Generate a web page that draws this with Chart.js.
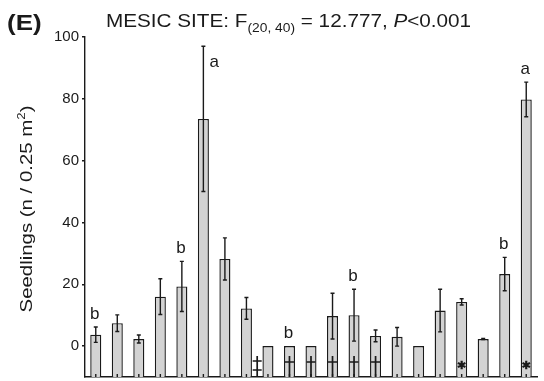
<!DOCTYPE html>
<html>
<head>
<meta charset="utf-8">
<script src="https://cdn.jsdelivr.net/npm/chart.js@4.4.0/dist/chart.umd.min.js"></script>
<style>
  html, body { margin: 0; padding: 0; background: #fff; }
  #wrap { width: 544px; height: 381px; }
</style>
</head>
<body>
<div id="wrap"><canvas id="c" width="544" height="381"></canvas></div>
<script>
// Treatments (21 plots, unlabeled on the axis)
const treatments = ['1','2','3','4','5','6','7','8','9','10','11','12','13','14','15','16','17','18','19','20','21'];
// Mean seedlings per 0.25 m2 and standard error
const seedlings   = [3.7, 7.4, 2.3, 16.0, 19.3, 73.5, 28.2, 12.2, 0, 0, 0, 9.7, 10.0, 3.3, 3.0, 0, 11.5, 14.3, 2.3, 23.3, 79.8];
const seedlingsSE = [2.5, 2.7, 1.3, 5.8, 8.1, 23.5, 6.8, 3.5, 0, 0, 0, 7.4, 8.4, 1.9, 3.0, 0, 6.9, 1.0, 0.2, 5.4, 5.6];
// Post-hoc group letters and markers along the base
const groupLetters = ['b','','','','b','a','','','','b','','','b','','','','','','','b','a'];
const baseMarks    = ['','','','','','','','','‡','†','†','†','†','†','','','','*','','','*'];
const yTicks = [0, 20, 40, 60, 80, 100];

const INK = '#1a1a1a';
const FONT = "'Liberation Sans', Arial, sans-serif";

// draw a run of text pieces [text, font, dy], stretched horizontally by sx
function drawRun(ctx, parts, x, y, sx) {
  ctx.save();
  ctx.translate(x, y);
  ctx.scale(sx, 1);
  let cx = 0;
  parts.forEach(([t, f, dy]) => {
    ctx.font = f + FONT;
    ctx.fillText(t, cx, dy);
    cx += ctx.measureText(t).width;
  });
  ctx.restore();
  return cx * sx;
}

const overlay = {
  id: 'overlay',
  afterDatasetsDraw(chart) {
    const { ctx, chartArea, scales } = chart;
    const ys = scales.y;
    const meta = chart.getDatasetMeta(0);
    const cat = (scales.x.getPixelForValue(1) - scales.x.getPixelForValue(0));
    ctx.save();
    ctx.strokeStyle = INK;
    ctx.fillStyle = INK;
    ctx.lineWidth = 1.4;
    meta.data.forEach((bar, i) => {
      const v = seedlings[i], e = seedlingsSE[i];
      const x = bar.x;
      const yt = ys.getPixelForValue(v + e);
      const yb = ys.getPixelForValue(v - e);
      // error bar
      if (e > 0) {
        ctx.beginPath();
        ctx.moveTo(x, yt); ctx.lineTo(x, yb);
        ctx.moveTo(x - 2, yt); ctx.lineTo(x + 2, yt);
        ctx.moveTo(x - 2, yb); ctx.lineTo(x + 2, yb);
        ctx.stroke();
      }
      // small tick on the base line
      ctx.beginPath();
      ctx.moveTo(x, chartArea.bottom); ctx.lineTo(x, chartArea.bottom - 3);
      ctx.stroke();
      // group letter
      const letter = groupLetters[i];
      if (letter) {
        ctx.font = '17px ' + FONT;
        if (yt - 22 < chartArea.top) {
          ctx.textAlign = 'left';
          ctx.fillText(letter, x + 6, yt + 21);
        } else {
          ctx.textAlign = 'center';
          ctx.fillText(letter, x - 1, yt - 8);
        }
      }
      // base markers
      const mk = baseMarks[i];
      const bot = chartArea.bottom;
      ctx.lineWidth = 1.7;
      if (mk === '†' || mk === '‡') {
        const mx = mk === '‡' ? x - cat / 2 : x;
        ctx.beginPath();
        ctx.moveTo(mx, bot - 21); ctx.lineTo(mx, bot);
        if (mk === '†') {
          ctx.moveTo(mx - 4.5, bot - 15); ctx.lineTo(mx + 4.5, bot - 15);
        } else {
          ctx.moveTo(mx - 4.5, bot - 16); ctx.lineTo(mx + 4.5, bot - 16);
          ctx.moveTo(mx - 4.5, bot - 7); ctx.lineTo(mx + 4.5, bot - 7);
        }
        ctx.stroke();
      } else if (mk === '*') {
        const cy = bot - 12, r = 4.3;
        ctx.beginPath();
        for (let k = 0; k < 3; k++) {
          const a = Math.PI / 2 + k * Math.PI / 3;
          ctx.moveTo(x - r * Math.cos(a), cy - r * Math.sin(a));
          ctx.lineTo(x + r * Math.cos(a), cy + r * Math.sin(a));
        }
        ctx.lineWidth = 2.2;
        ctx.stroke();
      }
      ctx.lineWidth = 1.4;
    });
    ctx.restore();
  },
  afterDraw(chart) {
    const { ctx, chartArea } = chart;
    ctx.save();
    ctx.fillStyle = INK;
    ctx.textAlign = 'left';
    ctx.textBaseline = 'alphabetic';
    drawRun(ctx, [['(E)', 'bold 22px ', 0]], 7, 30, 1.18);
    // title with subscript degrees of freedom and italic P
    drawRun(ctx, [
      ['MESIC SITE: F', '18px ', 0],
      ['(20, 40)', '12px ', 5],
      [' = 12.777, ', '18px ', 0],
      ['P', 'italic 18px ', 0],
      ['<0.001', '18px ', 0]
    ], 106, 26.5, 1.15);
    // value-axis title, rotated, with superscript 2
    const yMid = (chartArea.top + chartArea.bottom) / 2 + 2;
    ctx.save();
    ctx.translate(32, yMid);
    ctx.rotate(-Math.PI / 2);
    ctx.scale(1.2, 1);
    const t1 = 'Seedlings (n / 0.25 m';
    ctx.font = '17px ' + FONT;
    const w1 = ctx.measureText(t1).width;
    ctx.font = '11px ' + FONT;
    const w2 = ctx.measureText('2').width;
    ctx.font = '17px ' + FONT;
    const w3 = ctx.measureText(')').width;
    const sx = -(w1 + w2 + w3) / 2;
    ctx.fillText(t1, sx, 0);
    ctx.font = '11px ' + FONT;
    ctx.fillText('2', sx + w1, -7);
    ctx.font = '17px ' + FONT;
    ctx.fillText(')', sx + w1 + w2, 0);
    ctx.restore();
    ctx.restore();
  }
};

new Chart(document.getElementById('c').getContext('2d'), {
  type: 'bar',
  data: {
    labels: treatments,
    datasets: [{
      data: seedlings,
      base: -10,
      backgroundColor: '#d3d3d3',
      borderColor: INK,
      borderWidth: 1.4,
      barPercentage: 0.9,
      categoryPercentage: 0.57
    }]
  },
  options: {
    responsive: false,
    animation: false,
    layout: { padding: { top: 37, right: 7, left: 0, bottom: 3 } },
    plugins: { legend: { display: false }, tooltip: { enabled: false }, title: { display: false } },
    scales: {
      x: {
        grid: { display: false, drawTicks: false },
        border: { color: INK, width: 1.4 },
        ticks: { display: false },
        afterFit(s) { s.height = 1; s.paddingLeft = 0; s.paddingRight = 0; }
      },
      y: {
        min: -10,
        max: 100,
        afterBuildTicks(s) { s.ticks = yTicks.map(v => ({ value: v })); },
        ticks: { font: { family: FONT, size: 15 }, color: INK, padding: 3 },
        grid: { drawOnChartArea: false, tickLength: 3, color: INK, lineWidth: 1.4 },
        border: { color: INK, width: 1.4 },
        afterFit(s) { s.width = 85; s.paddingTop = 0; s.paddingBottom = 0; }
      }
    }
  },
  plugins: [overlay]
});
</script>
</body>
</html>
